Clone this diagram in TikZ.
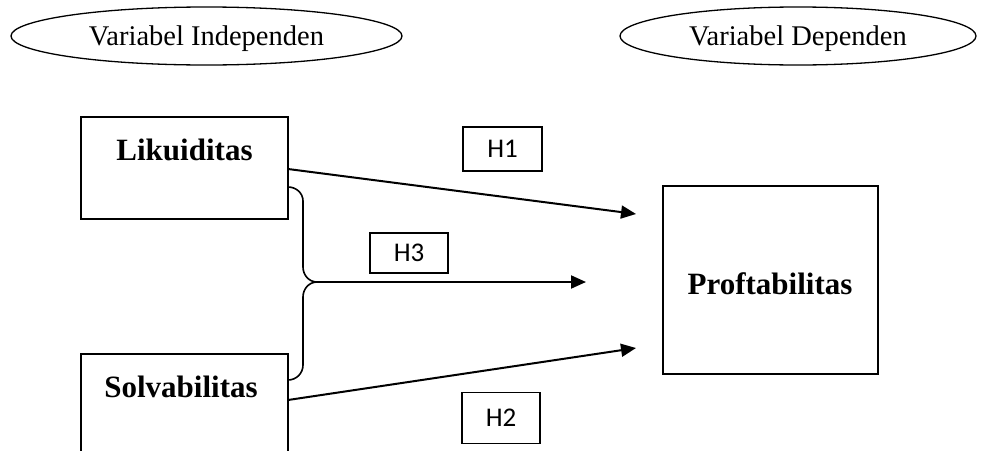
\documentclass[tikz,border=0pt]{standalone}
\usepackage{fontspec}
\setmainfont{Liberation Serif}
\newfontfamily\hfont{Carlito}
\usetikzlibrary{shapes.geometric,arrows.meta}
\tikzset{
  oval/.style={ellipse,draw,line width=1.3pt,inner sep=0pt},
  ovaltext/.style={inner sep=0pt,font=\fontsize{28.5}{32}\selectfont},
  varbox/.style={rectangle,draw,line width=1.3pt,inner sep=0pt},
  varlabel/.style={font=\fontsize{31}{36}\selectfont\bfseries,inner sep=0pt},
  hbox/.style={rectangle,draw,line width=1.1pt,inner sep=0pt,font=\hfont\fontsize{27}{31}\selectfont},
  arr/.style={line width=2pt,-{Triangle[length=15pt,width=13pt]}},
  brace/.style={line width=1.6pt}
}
\begin{document}
\begin{tikzpicture}[x=1pt,y=-1pt]
\useasboundingbox (0,0) rectangle (984,450);
% ellipses
\node[oval,minimum width=391,minimum height=58] (e1) at (206.5,36) {};
\node[ovaltext] (e1t) at (206.5,39) {Variabel Independen};
\node[oval,minimum width=356,minimum height=58] (e2) at (798,36) {};
\node[ovaltext] (e2t) at (798,39) {Variabel Dependen};
% boxes
\node[varbox,minimum width=207,minimum height=102] (L) at (184.5,168) {};
\node[varlabel] (Lt) at (184.5,150) {Likuiditas};
\node[varbox,minimum width=207,minimum height=130] (S) at (184.5,419) {};
\node[varlabel] (St) at (181,387) {Solvabilitas};
\node[varbox,minimum width=215,minimum height=188] (P) at (770.5,280) {};
\node[varlabel] (Pt) at (770,284) {Proftabilitas};
% hypothesis labels
\node[hbox,minimum width=79,minimum height=44] (H1) at (502.5,149) {H1};
\node[hbox,minimum width=78,minimum height=40] (H3) at (409,253) {H3};
\node[hbox,minimum width=78,minimum height=51] (H2) at (501,418) {H2};
% coordinates
\coordinate (L1) at (288,169);
\coordinate (L2) at (288,187);
\coordinate (S1) at (288,380);
\coordinate (S2) at (288,400);
\coordinate (M) at (317,282);
\coordinate (a1) at (636,214);
\coordinate (a3) at (586,282);
\coordinate (a2) at (636,348);
% arrows
\draw[arr] (L1) -- (a1);
\draw[arr] (S2) -- (a2);
\draw[arr] (M) -- (a3);
% brace
\draw[brace] (L2) to[out=0,in=90] (303,201) -- (303,267) to[out=-90,in=180] (M);
\draw[brace] (M) to[out=180,in=90] (303,297) -- (303,365) to[out=-90,in=0] (S1);
\end{tikzpicture}
\end{document}
